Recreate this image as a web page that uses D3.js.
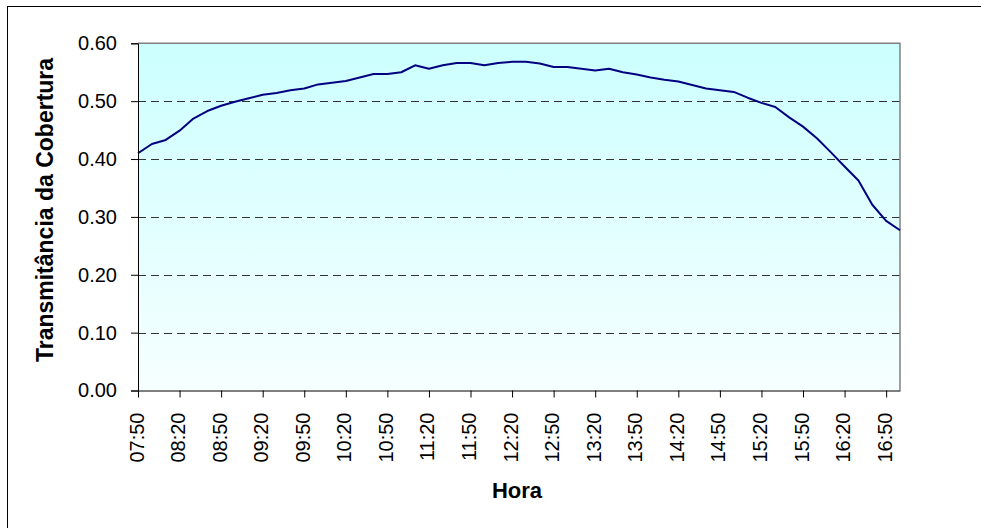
<!DOCTYPE html>
<html>
<head>
<meta charset="utf-8">
<script src="https://cdn.jsdelivr.net/npm/d3@7"></script>
<style>
  html, body { margin: 0; padding: 0; background: #fff; }
  svg { display: block; }
  text { font-family: Arial, "Liberation Sans", sans-serif; fill: #000; }
</style>
</head>
<body>
<svg id="chart" width="981" height="528"></svg>
<script>
const times = ["07:50","08:00","08:10","08:20","08:30","08:40","08:50","09:00","09:10","09:20",
  "09:30","09:40","09:50","10:00","10:10","10:20","10:30","10:40","10:50","11:00",
  "11:10","11:20","11:30","11:40","11:50","12:00","12:10","12:20","12:30","12:40",
  "12:50","13:00","13:10","13:20","13:30","13:40","13:50","14:00","14:10","14:20",
  "14:30","14:40","14:50","15:00","15:10","15:20","15:30","15:40","15:50","16:00",
  "16:10","16:20","16:30","16:40","16:50","17:00"];
const transmitancia = [0.410,0.426,0.433,0.449,0.470,0.483,0.492,0.499,0.505,0.511,
  0.514,0.519,0.522,0.529,0.532,0.535,0.541,0.547,0.547,0.550,
  0.562,0.556,0.562,0.566,0.566,0.562,0.566,0.568,0.568,0.565,
  0.559,0.559,0.556,0.553,0.556,0.550,0.546,0.541,0.537,0.534,
  0.528,0.522,0.519,0.516,0.506,0.497,0.490,0.472,0.456,0.436,
  0.412,0.387,0.363,0.321,0.293,0.277];
const tickLabels = ["07:50","08:20","08:50","09:20","09:50","10:20","10:50","11:20","11:50","12:20",
  "12:50","13:20","13:50","14:20","14:50","15:20","15:50","16:20","16:50"];
const yTicks = [0, 0.1, 0.2, 0.3, 0.4, 0.5, 0.6];
const yTitle = "Transmitância da Cobertura";
const xTitle = "Hora";

const svg = d3.select("#chart");
const L = 138, R = 900, T = 43.3, B = 390.5;

// outer frame
svg.append("rect").attr("x", 7.5).attr("y", 6.5).attr("width", 990).attr("height", 540)
  .attr("fill", "#fff").attr("stroke", "#000").attr("stroke-width", 1);

const defs = svg.append("defs");
const grad = defs.append("linearGradient").attr("id", "bg").attr("x1", 0).attr("y1", 0).attr("x2", 0).attr("y2", 1);
grad.append("stop").attr("offset", "0%").attr("stop-color", "#ccffff");
grad.append("stop").attr("offset", "100%").attr("stop-color", "#f6ffff");

const x = d3.scalePoint().domain(times).range([L, R]);
const y = d3.scaleLinear().domain([0, 0.6]).range([B, T]);

svg.append("rect").attr("x", L).attr("y", T).attr("width", R - L).attr("height", B - T)
  .attr("fill", "url(#bg)");

// gridlines
svg.append("g").selectAll("line").data(yTicks.filter(d => d > 0 && d < 0.6)).join("line")
  .attr("x1", L).attr("x2", R)
  .attr("y1", d => Math.round(y(d)) + 0.5).attr("y2", d => Math.round(y(d)) + 0.5)
  .attr("stroke", "#333").attr("stroke-width", 1).attr("stroke-dasharray", "8,5");

// top & right border
svg.append("path")
  .attr("d", `M${L},${T}H${R}V${B}`)
  .attr("fill", "none").attr("stroke", "#808080").attr("stroke-width", 1.5);

// line
const line = d3.line().x((d, i) => x(times[i])).y(d => y(d));
svg.append("path").datum(transmitancia)
  .attr("d", line).attr("fill", "none").attr("stroke", "#000080").attr("stroke-width", 2)
  .attr("stroke-linejoin", "round");

// y axis
const yAxis = d3.axisLeft(y).tickValues(yTicks).tickFormat(d3.format(".2f")).tickSize(7).tickPadding(14);
const gy = svg.append("g").attr("transform", `translate(${L},0)`).call(yAxis);
gy.select(".domain").attr("stroke", "#000");
gy.selectAll(".tick line").attr("stroke", "#000");
gy.selectAll("text").attr("font-size", 20).attr("font-family", "Arial, 'Liberation Sans', sans-serif").attr("fill", "#000");

// x axis
const xAxis = d3.axisBottom(x).tickValues(tickLabels).tickSize(7).tickSizeOuter(0);
const gx = svg.append("g").attr("transform", `translate(0,${B})`).call(xAxis);
gx.select(".domain").attr("stroke", "#000");
gx.selectAll(".tick line").attr("stroke", "#000");
gx.selectAll("text")
  .attr("font-size", 20).attr("font-family", "Arial, 'Liberation Sans', sans-serif").attr("fill", "#000")
  .attr("text-anchor", "end")
  .attr("transform", "rotate(-90)")
  .attr("x", -22).attr("y", 0).attr("dy", "0.25em");

// titles
svg.append("text").attr("x", 517).attr("y", 498).attr("text-anchor", "middle")
  .attr("font-size", 22).attr("font-weight", "bold").text(xTitle);
svg.append("text").attr("transform", `translate(53,210) rotate(-90)`)
  .attr("text-anchor", "middle").attr("font-size", 23).attr("font-weight", "bold").text(yTitle);
</script>
</body>
</html>
